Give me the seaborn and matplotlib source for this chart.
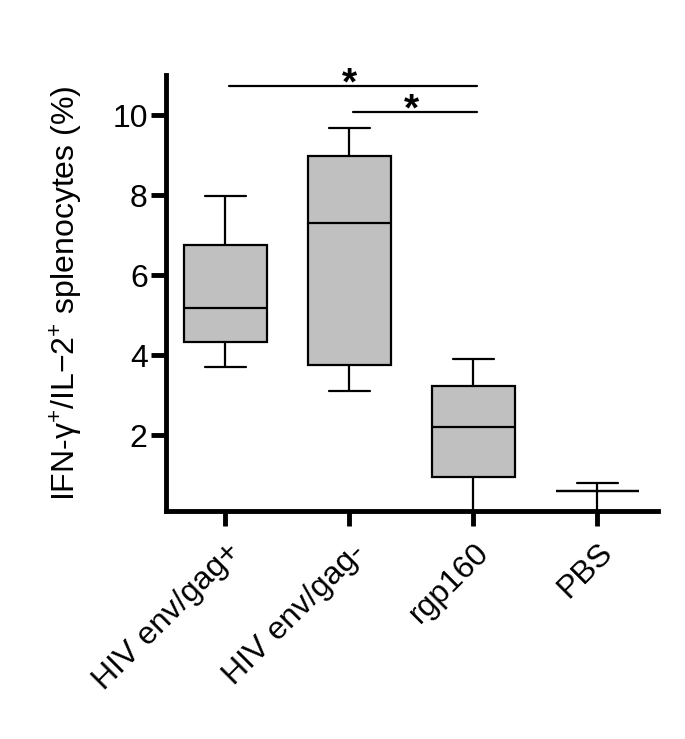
import seaborn as sns
import pandas as pd
import matplotlib.pyplot as plt

# groups and box statistics: [low whisker, Q1, median, Q3, high whisker]
groups = ["HIV env/gag+", "HIV env/gag-", "rgp160", "PBS"]
envGagPos = [3.7, 4.33, 5.18, 6.75, 7.98]
envGagNeg = [3.1, 3.75, 7.29, 8.98, 9.68]
rgp160 = [0.0, 0.95, 2.19, 3.23, 3.89]
pbs = [0.0, 0.6, 0.6, 0.6, 0.79]
yTicks = [2, 4, 6, 8, 10]

# significance bars: (from group, to group, height)
sigBars = [(0, 2, 10.72), (1, 2, 10.07)]

data = pd.DataFrame({
    "group": [g for g, vals in zip(groups, [envGagPos, envGagNeg, rgp160, pbs]) for _ in vals],
    "value": envGagPos + envGagNeg + rgp160 + pbs,
})

sns.set_style("ticks")
plt.rcParams['font.family'] = ['Liberation Sans', 'DejaVu Sans']
plt.rcParams['mathtext.fontset'] = 'custom'
plt.rcParams['mathtext.rm'] = 'Liberation Sans'
plt.rcParams['text.color'] = 'black'
plt.rcParams['axes.labelcolor'] = 'black'
plt.rcParams['axes.edgecolor'] = 'black'
plt.rcParams['xtick.color'] = 'black'
plt.rcParams['ytick.color'] = 'black'

fig = plt.figure(figsize=(6.85, 7.39), dpi=100)
ax = fig.add_axes([0.242, 0.3085, 0.719, 0.59])

sns.boxplot(data=data, x="group", y="value", order=groups, whis=(0, 100),
            width=0.67, color="#c0c0c0", saturation=1, linecolor="black",
            linewidth=1.6, showfliers=False, ax=ax)

# significance lines
for start, end, height in sigBars:
    ax.plot([start + 0.03, end + 0.03], [height, height], color="black", lw=1.6,
            clip_on=False)
    ax.text((start + end) / 2, height - 0.2, "*", ha="center", va="baseline",
            fontsize=28, fontweight="bold", clip_on=False)

ax.set_xlim(-0.48, 3.49)
ax.set_ylim(0.1, 11)
ax.set_yticks(yTicks)
ax.set_yticklabels([str(t) for t in yTicks], fontsize=23)
ax.set_xticks(range(len(groups)))
ax.set_xticklabels(groups, rotation=45, ha="right", rotation_mode="anchor", fontsize=23)

sns.despine(ax=ax)
for side in ["left", "bottom"]:
    ax.spines[side].set_linewidth(3.5)
ax.tick_params(axis="both", width=3.5, length=11, direction="out")
ax.tick_params(axis="y", pad=2)
ax.tick_params(axis="x", pad=8)

ax.set_xlabel("")
ax.set_ylabel("IFN-γ$^{+}$/IL−2$^{+}$ splenocytes (%)", fontsize=23, labelpad=20)

plt.savefig("out.png", dpi=100)
